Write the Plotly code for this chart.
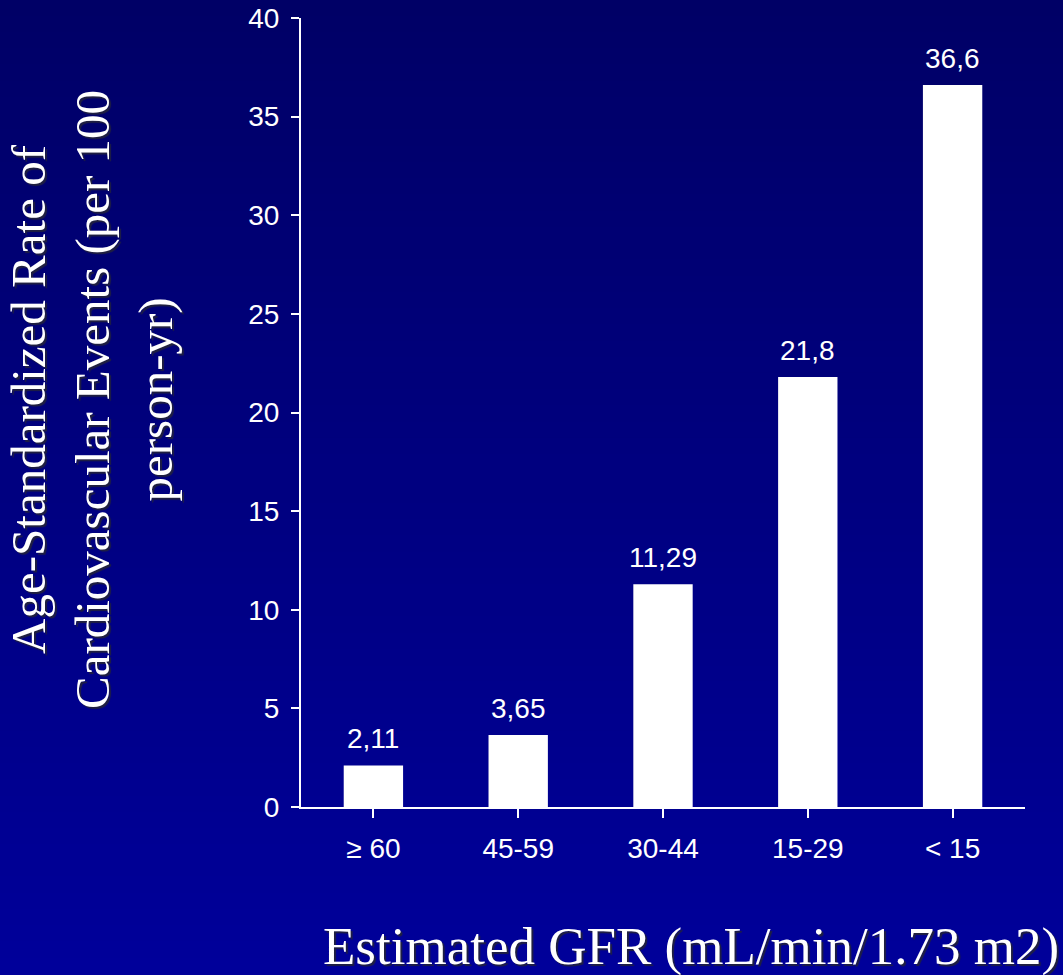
import plotly.graph_objects as go

categories = ["≥ 60", "45-59", "30-44", "15-29", "< 15"]
rates = [2.11, 3.65, 11.29, 21.8, 36.6]
rate_labels = ["2,11", "3,65", "11,29", "21,8", "36,6"]
y_ticks = [0, 5, 10, 15, 20, 25, 30, 35, 40]

W, H = 1063, 975
ML, MR, MT, MB = 301, 38, 18, 168
pw, ph = W - ML - MR, H - MT - MB

fig = go.Figure()
fig.add_trace(go.Bar(
    x=list(range(len(categories))), y=rates,
    marker=dict(color="white", line=dict(width=0)),
    width=0.41, hoverinfo="skip", showlegend=False,
))

# background gradient strips (paper coordinates)
shapes = []
n = 60
top_c, bot_c = (0, 0, 102), (0, 0, 154)
for i in range(n):
    py0 = i * H / n - 1
    py1 = (i + 1) * H / n + 1
    t = (i + 0.5) / n
    c = tuple(round(top_c[k] + (bot_c[k] - top_c[k]) * t) for k in range(3))
    shapes.append(dict(
        type="rect", xref="paper", yref="paper", layer="below",
        x0=-1, x1=2,
        y0=(H - MB - py1) / ph, y1=(H - MB - py0) / ph,
        fillcolor=f"rgb{c}", line=dict(width=0),
    ))

annotations = []
for i, (v, lab) in enumerate(zip(rates, rate_labels)):
    annotations.append(dict(
        x=i, y=v, xref="x", yref="y", text=lab, showarrow=False,
        yanchor="bottom", yshift=9,
        font=dict(family="Liberation Sans, Arial", size=28, color="white"),
    ))

serif = "Liberation Serif, Times New Roman, serif"
annotations.append(dict(
    xref="paper", yref="paper",
    x=(92 - ML) / pw, y=(H - MB - 400) / ph,
    text="Age-Standardized Rate of<br>Cardiovascular Events (per 100<br>person-yr)",
    textangle=-90, showarrow=False, xanchor="center", yanchor="middle",
    font=dict(family=serif, size=49, color="white", shadow="-2px 2px 1px #202040"),
))
annotations.append(dict(
    xref="paper", yref="paper",
    x=(691 - ML) / pw, y=(H - MB - 946) / ph,
    text="Estimated GFR (mL/min/1.73 m2)",
    showarrow=False, xanchor="center", yanchor="middle",
    font=dict(family=serif, size=53, color="white", shadow="2px 2px 1px #202040"),
))

tickfont = dict(family="Liberation Sans, Arial", size=28, color="white")
fig.update_layout(
    width=W, height=H,
    margin=dict(l=ML, r=MR, t=MT, b=MB, pad=0, autoexpand=False),
    paper_bgcolor="rgb(0,0,128)", plot_bgcolor="rgba(0,0,0,0)",
    shapes=shapes, annotations=annotations,
    bargap=0.59,
    xaxis=dict(
        range=[-0.5, len(categories) - 0.5], automargin=False,
        tickmode="array", tickvals=list(range(len(categories))), ticktext=categories,
        tickson="boundaries", ticks="outside", ticklen=9, tickwidth=2, tickcolor="white",
        showline=True, linecolor="white", linewidth=2,
        showgrid=False, zeroline=False, tickfont=tickfont, ticklabelstandoff=6,
        fixedrange=True,
    ),
    yaxis=dict(
        range=[0, 40], tickmode="array", tickvals=y_ticks, automargin=False,
        ticks="outside", ticklen=8, tickwidth=2, tickcolor="white",
        showline=True, linecolor="white", linewidth=2,
        showgrid=False, zeroline=False, tickfont=tickfont, ticklabelstandoff=6,
        fixedrange=True,
    ),
)

fig.write_html("out.html")
